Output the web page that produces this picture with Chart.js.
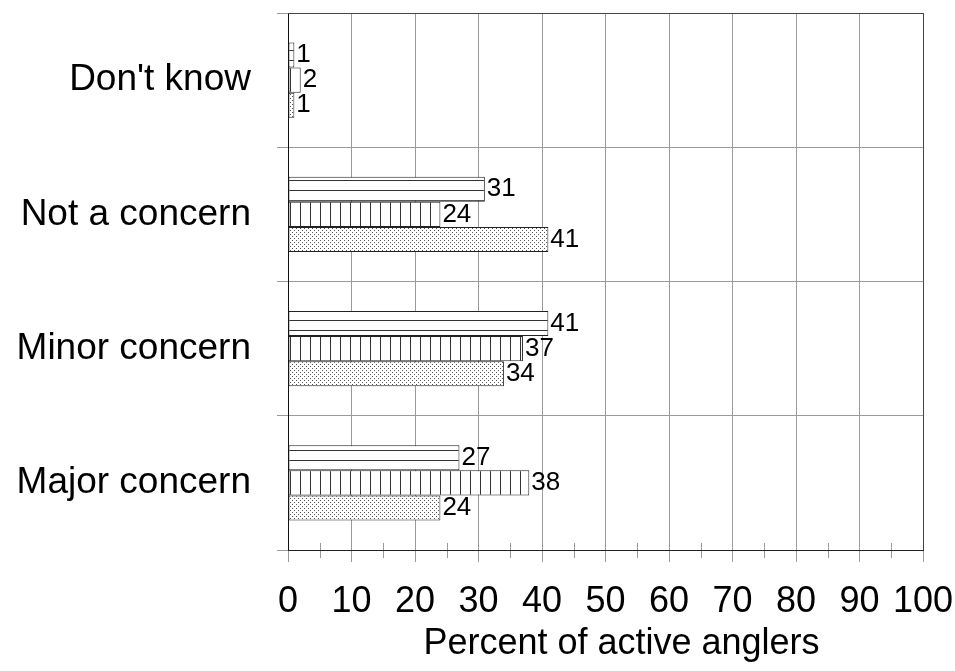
<!DOCTYPE html>
<html>
<head>
<meta charset="utf-8">
<script src="https://cdn.jsdelivr.net/npm/chart.js@4/dist/chart.umd.min.js"></script>
<style>
  html, body { margin: 0; padding: 0; background: #fff; }
  #wrap { width: 955px; height: 671px; position: relative; }
</style>
</head>
<body>
<div id="wrap"><canvas id="c" width="955" height="671"></canvas></div>
<script>
// ---- Data ----
const categories = ["Don't know", "Not a concern", "Minor concern", "Major concern"];
const seriesHoriz = [1, 31, 41, 27];   // horizontal-stripe bars
const seriesVert  = [2, 24, 37, 38];   // vertical-stripe bars
const seriesDots  = [1, 41, 34, 24];   // dotted bars
const axisMin = 0;
const axisMax = 100;
const axisStep = 10;
const minorTickValues = [5, 15, 25, 35, 45, 55, 65, 75, 85, 95];
const axisTitle = "Percent of active anglers";

// ---- Patterns ----
function makePattern(w, h, drawFn) {
  const c = document.createElement('canvas');
  c.width = w; c.height = h;
  const g = c.getContext('2d');
  g.fillStyle = '#ffffff';
  g.fillRect(0, 0, w, h);
  drawFn(g);
  return g.createPattern(c, 'repeat');
}
const ctx = document.getElementById('c').getContext('2d');
const patHoriz = makePattern(1, 10, g => { g.fillStyle = '#333'; g.fillRect(0, 0, 1, 1); });
const patVert  = makePattern(10, 1, g => { g.fillStyle = '#333'; g.fillRect(0, 0, 1, 1); });
const patDots  = makePattern(4, 4, g => {
  g.fillStyle = '#555';
  g.fillRect(0, 0, 1, 1);
  g.fillRect(2, 2, 1, 1);
});

const FONT = "'Liberation Sans', Arial, sans-serif";
const gridGray = '#9a9a9a';

function zeroPadding(scale) {
  scale.paddingTop = 0;
  scale.paddingBottom = 0;
  scale.paddingLeft = 0;
  scale.paddingRight = 0;
}

// ---- Plugins ----
const valueLabels = {
  id: 'valueLabels',
  afterDatasetsDraw(chart) {
    const c = chart.ctx;
    c.save();
    c.font = "26px " + FONT;
    c.fillStyle = '#000';
    c.textAlign = 'left';
    c.textBaseline = 'middle';
    chart.data.datasets.forEach((ds, i) => {
      const meta = chart.getDatasetMeta(i);
      meta.data.forEach((bar, j) => {
        c.fillText(String(ds.data[j]), bar.x + 2, bar.y);
      });
    });
    c.restore();
  }
};

const frameAndMinor = {
  id: 'frameAndMinor',
  afterDraw(chart) {
    const c = chart.ctx;
    const a = chart.chartArea;
    const xs = chart.scales.x;
    c.save();
    c.strokeStyle = gridGray;
    c.lineWidth = 1;
    minorTickValues.forEach(v => {
      const px = Math.round(xs.getPixelForValue(v)) + 0.5;
      c.beginPath();
      c.moveTo(px, a.bottom - 7);
      c.lineTo(px, a.bottom + 8);
      c.stroke();
    });
    c.strokeStyle = '#444';
    c.beginPath();
    c.moveTo(a.left, Math.round(a.top) + 0.5);
    c.lineTo(Math.round(a.right) + 0.5, Math.round(a.top) + 0.5);
    c.lineTo(Math.round(a.right) + 0.5, a.bottom);
    c.stroke();
    c.strokeStyle = '#222';
    c.beginPath();
    c.moveTo(a.left, Math.round(a.bottom) + 0.5);
    c.lineTo(a.right + 1, Math.round(a.bottom) + 0.5);
    c.stroke();
    // axis title, centred between plot left edge and canvas right edge
    c.font = "36px " + FONT;
    c.fillStyle = '#000';
    c.textAlign = 'center';
    c.textBaseline = 'middle';
    c.fillText(axisTitle, (a.left + chart.width) / 2, chart.height - 27);
    c.restore();
  }
};

new Chart(ctx, {
  type: 'bar',
  data: {
    labels: categories,
    datasets: [
      { data: seriesHoriz, backgroundColor: patHoriz, borderColor: '#222', borderWidth: 1, borderSkipped: false },
      { data: seriesVert,  backgroundColor: patVert,  borderColor: '#222', borderWidth: 1, borderSkipped: false },
      { data: seriesDots,  backgroundColor: patDots,  borderColor: '#222', borderWidth: 1, borderSkipped: false }
    ]
  },
  options: {
    indexAxis: 'y',
    responsive: false,
    animation: false,
    devicePixelRatio: 1,
    layout: { padding: { top: 13, right: 32, left: 0, bottom: 0 } },
    categoryPercentage: 0.56,
    barPercentage: 1.0,
    plugins: {
      legend: { display: false },
      tooltip: { enabled: false }
    },
    scales: {
      x: {
        min: axisMin,
        max: axisMax,
        ticks: {
          stepSize: axisStep,
          font: { family: FONT, size: 36 },
          color: '#000',
          padding: 18,
          maxRotation: 0,
          autoSkip: false
        },
        grid: { color: gridGray, tickColor: gridGray, tickLength: 12, lineWidth: 1 },
        border: { color: '#222', width: 1 },
        title: { display: false },
        afterFit(scale) { scale.height = 121; zeroPadding(scale); }
      },
      y: {
        ticks: {
          font: { family: FONT, size: 37 },
          color: '#000',
          padding: 26
        },
        grid: { color: gridGray, tickColor: gridGray, tickLength: 11, lineWidth: 1, offset: true },
        border: { color: '#111', width: 1 },
        afterFit(scale) { scale.width = 288; zeroPadding(scale); }
      }
    }
  },
  plugins: [valueLabels, frameAndMinor]
});
</script>
</body>
</html>
